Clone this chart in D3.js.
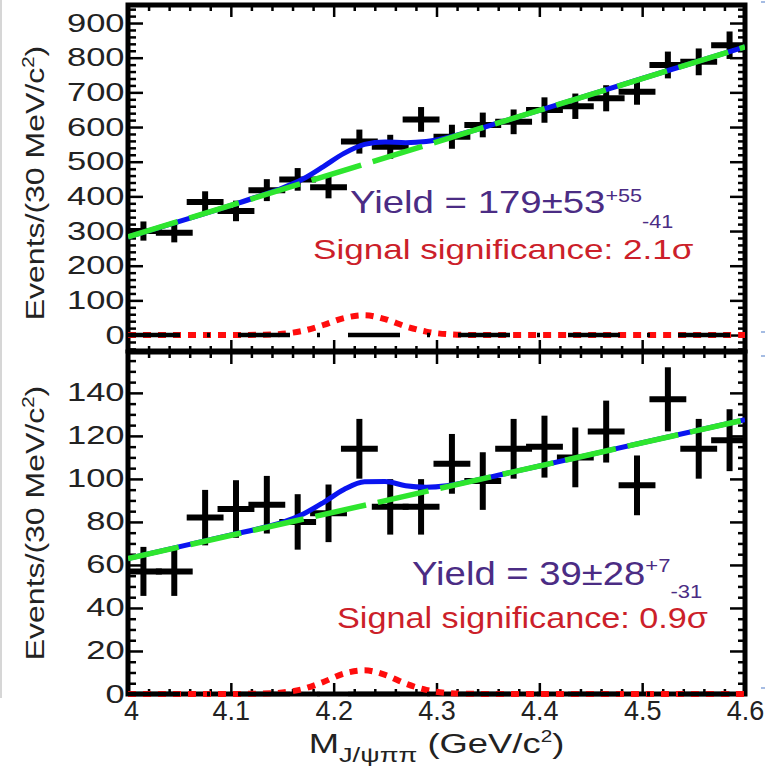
<!DOCTYPE html>
<html lang="en">
<head>
<meta charset="UTF-8">
<title>M(J/psi pi pi) fits</title>
<script src="https://d3js.org/d3.v7.min.js"></script>
<style>
  body { margin: 0; background: #fff; }
  svg { display: block; font-family: "Liberation Sans", Arial, sans-serif; }
  .frame { fill: none; stroke: #000; stroke-width: 5; }
  .axis path { display: none; }
  .axis line { stroke: #000; stroke-width: 2.5; }
  .axis text { fill: #222; font-family: "Liberation Sans", Arial, sans-serif; }
</style>
</head>
<body>
<svg width="765" height="766"></svg>
<script>
// 30 MeV bins between 4.0 and 4.6 GeV
const binCenters = [4.015, 4.045, 4.075, 4.105, 4.135, 4.165, 4.195, 4.225, 4.255, 4.285,
                    4.315, 4.345, 4.375, 4.405, 4.435, 4.465, 4.495, 4.525, 4.555, 4.585];
const topCounts = [300, 295, 384, 358, 418, 449, 426, 558, 543, 622,
                   572, 606, 615, 649, 660, 683, 702, 779, 788, 836];
const topErrors = [19, 19, 22, 21, 23, 24, 23, 26, 26, 27, 26, 27, 27, 28, 28, 29, 29, 30, 30, 31];
const botCounts = [57, 57, 82, 86, 88, 80, 84, 114, 87, 87,
                   107, 99, 114, 115, 110, 122, 97, 137, 114, 118];
const botErrors = [10, 10, 11.5, 12, 12, 11.5, 12, 12.5, 11.5, 11.5,
                   12.5, 12, 12.5, 13, 12.5, 13, 12.5, 13.5, 12.5, 13];

// fit curves
const curveMass = [4.0, 4.1, 4.13, 4.15, 4.17, 4.19, 4.21, 4.23, 4.25, 4.27,
                   4.29, 4.31, 4.33, 4.36, 4.4, 4.5, 4.6];
const topTotal  = [283, 374, 403, 424, 450, 486, 524, 550, 557, 555,
                   558, 569, 585, 612, 648, 740, 831];
const topSignal = [0, 0, 1, 3.5, 12, 29, 49, 57, 46, 25, 10, 2.6, 0.5, 0, 0, 0, 0];
const botTotal  = [63, 74, 77.2, 79.8, 83.6, 89, 95.1, 98.7, 98.8, 96.8,
                   96.1, 96.8, 98.6, 101.7, 106, 116.8, 127.5];
const botSignal = [0, 0, 0.2, 0.7, 2.3, 5.6, 9.5, 11, 8.9, 4.8, 1.9, 0.5, 0.1, 0, 0, 0, 0];
const bkgMass = [4.0, 4.6];
const topBkg = [283, 831];
const botBkg = [63, 127.5];

const xTicks = [4.0, 4.1, 4.2, 4.3, 4.4, 4.5, 4.6];
const xTickLabels = ["4", "4.1", "4.2", "4.3", "4.4", "4.5", "4.6"];
const topYTicks = [0, 100, 200, 300, 400, 500, 600, 700, 800, 900];
const botYTicks = [0, 20, 40, 60, 80, 100, 120, 140];

const svg = d3.select("svg");
const halfBin = 0.015;
const left = 128, right = 745;

const x = d3.scaleLinear().domain([4.0, 4.6]).range([left, right]);

const panels = [
  { id: "top", y: d3.scaleLinear().domain([-46, 952]).range([351, 5]),
    counts: topCounts, errors: topErrors, total: topTotal, signal: topSignal, bkg: topBkg,
    yTicks: topYTicks, minorN: 50, xLabels: false },
  { id: "bot", y: d3.scaleLinear().domain([0, 159]).range([694, 352]),
    counts: botCounts, errors: botErrors, total: botTotal, signal: botSignal, bkg: botBkg,
    yTicks: botYTicks, minorN: 32, xLabels: true }
];

// faint page edge from the source slide
svg.append("line").attr("x1", 1).attr("x2", 1).attr("y1", 0).attr("y2", 698)
   .attr("stroke", "#c8c8c8").attr("stroke-width", 1.5);
[2, 332, 356, 688].forEach(v => {
  svg.append("line").attr("x1", 761).attr("x2", 765).attr("y1", v).attr("y2", v)
     .attr("stroke", "#6a8fd0").attr("stroke-width", 1.2);
});

panels.forEach(p => {
  const y = p.y;
  const [y0, y1] = y.range();   // bottom, top
  const g = svg.append("g");

  // axes: left with labels, right mirrored
  const yMinor = y.ticks(p.minorN).filter(v => !p.yTicks.includes(v));
  const yl = g.append("g").attr("class", "axis").attr("transform", `translate(${left},0)`)
    .call(d3.axisLeft(y).tickValues(p.yTicks).tickSizeInner(-15).tickSizeOuter(0).tickPadding(2.5));
  yl.selectAll("text").attr("font-size", 25).attr("transform", "scale(1.38,1)");
  g.append("g").attr("class", "axis").attr("transform", `translate(${left},0)`)
    .call(d3.axisLeft(y).tickValues(yMinor).tickSizeInner(-8).tickSizeOuter(0).tickFormat(""));
  g.append("g").attr("class", "axis").attr("transform", `translate(${right},0)`)
    .call(d3.axisRight(y).tickValues(p.yTicks).tickSizeInner(-15).tickSizeOuter(0).tickFormat(""));
  g.append("g").attr("class", "axis").attr("transform", `translate(${right},0)`)
    .call(d3.axisRight(y).tickValues(yMinor).tickSizeInner(-7).tickSizeOuter(0).tickFormat(""));

  const xMinor = x.ticks(30).filter(v => !xTicks.some(t => Math.abs(t - v) < 1e-6));
  const xb = g.append("g").attr("class", "axis").attr("transform", `translate(0,${y0})`)
    .call(d3.axisBottom(x).tickValues(xTicks).tickSizeInner(-11).tickSizeOuter(0).tickPadding(7)
      .tickFormat((d, i) => p.xLabels ? xTickLabels[i] : ""));
  xb.selectAll("text").attr("font-size", 27).attr("dx", (d, i) => i === 0 ? 3 : 0);
  g.append("g").attr("class", "axis").attr("transform", `translate(0,${y0})`)
    .call(d3.axisBottom(x).tickValues(xMinor).tickSizeInner(-5).tickSizeOuter(0).tickFormat(""));
  g.append("g").attr("class", "axis").attr("transform", `translate(0,${y1})`)
    .call(d3.axisTop(x).tickValues(xTicks).tickSizeInner(-12).tickSizeOuter(0).tickFormat(""));
  g.append("g").attr("class", "axis").attr("transform", `translate(0,${y1})`)
    .call(d3.axisTop(x).tickValues(xMinor).tickSizeInner(-6).tickSizeOuter(0).tickFormat(""));

  g.append("rect").attr("class", "frame")
    .attr("x", left).attr("y", y1).attr("width", right - left).attr("height", y0 - y1);

  // plot contents go over the frame, clipped a little beyond it
  g.append("clipPath").attr("id", "clip-" + p.id)
   .append("rect").attr("x", left).attr("y", y1 - 3).attr("width", right - left).attr("height", y0 - y1 + 6);
  const plot = g.append("g").attr("clip-path", `url(#clip-${p.id})`);

  // data points
  const pts = plot.selectAll(".pt").data(d3.zip(binCenters, p.counts, p.errors)).join("g")
    .attr("stroke", "#000").attr("stroke-width", 6).attr("stroke-linecap", "square");
  pts.append("line")
    .attr("x1", d => x(d[0] - halfBin)).attr("x2", d => x(d[0] + halfBin))
    .attr("y1", d => y(d[1])).attr("y2", d => y(d[1]));
  pts.append("line")
    .attr("x1", d => x(d[0])).attr("x2", d => x(d[0]))
    .attr("y1", d => y(d[1] - d[2])).attr("y2", d => y(d[1] + d[2]));

  const line = d3.line().x(d => x(d[0])).y(d => y(d[1])).curve(d3.curveMonotoneX);

  // total fit
  plot.append("path").datum(d3.zip(curveMass, p.total)).attr("d", line)
    .attr("fill", "none").attr("stroke", "#0a14f0").attr("stroke-width", 5);
  // background
  plot.append("path").datum(d3.zip(bkgMass, p.bkg)).attr("d", line)
    .attr("fill", "none").attr("stroke", "#2ee62e").attr("stroke-width", 5.5)
    .attr("stroke-dasharray", "52,12");
  // signal
  plot.append("path").datum(d3.zip(curveMass, p.signal)).attr("d", line)
    .attr("fill", "none").attr("stroke", "#ff0d0d").attr("stroke-width", 6)
    .attr("stroke-dasharray", "8,7");
  // zero component, drawn over the signal tails
  plot.append("path").datum(d3.zip(bkgMass, [0, 0])).attr("d", line)
    .attr("fill", "none").attr("stroke", "#000").attr("stroke-width", 4.5)
    .attr("stroke-dasharray", "52,27,3,28");

  // y title
  const yt = svg.append("text")
    .attr("transform", `translate(44,${(y0 + y1) / 2 + (p.id === "top" ? 5 : 0)}) rotate(-90) scale(1.28,1)`)
    .attr("text-anchor", "middle").attr("font-size", 25).attr("fill", "#222");
  yt.append("tspan").text("Events/(30 MeV/c");
  yt.append("tspan").attr("dy", -10).attr("font-size", 16).text("2");
  yt.append("tspan").attr("dy", 10).text(")");
});

// annotations
function note(x0, y0, scale, color, parts) {
  const t = svg.append("text").attr("transform", `translate(${x0},${y0}) scale(${scale},1)`)
    .attr("fill", color);
  parts.forEach(q => t.append("tspan").attr("font-size", q.size).attr("dy", q.dy || 0).text(q.text));
}
const purple = "#4b2c84", sigRed = "#cc1f2a";
note(350, 213, 1.2, purple, [
  { text: "Yield = 179±53", size: 32 },
  { text: "+55", size: 18, dy: -11 },
  { text: "-41", size: 18, dy: 26 }
]);
note(313, 259, 1.3, sigRed, [{ text: "Signal significance: 2.1σ", size: 27 }]);
note(412, 585, 1.16, purple, [
  { text: "Yield = 39±28", size: 33 },
  { text: "+7", size: 19, dy: -13 },
  { text: "-31", size: 19, dy: 26 }
]);
note(337, 628, 1.18, sigRed, [{ text: "Signal significance: 0.9σ", size: 29 }]);

// x title
const xt = svg.append("text").attr("transform", "translate(436.5,752.5) scale(1.3,1)")
  .attr("text-anchor", "middle").attr("font-size", 28).attr("fill", "#222");
xt.append("tspan").text("M");
xt.append("tspan").attr("font-size", 21).attr("dy", 9).text("J/ψππ");
xt.append("tspan").attr("dy", -9).text(" (GeV/c");
xt.append("tspan").attr("font-size", 16).attr("dy", -11).text("2");
xt.append("tspan").attr("dy", 11).text(")");
</script>
</body>
</html>
